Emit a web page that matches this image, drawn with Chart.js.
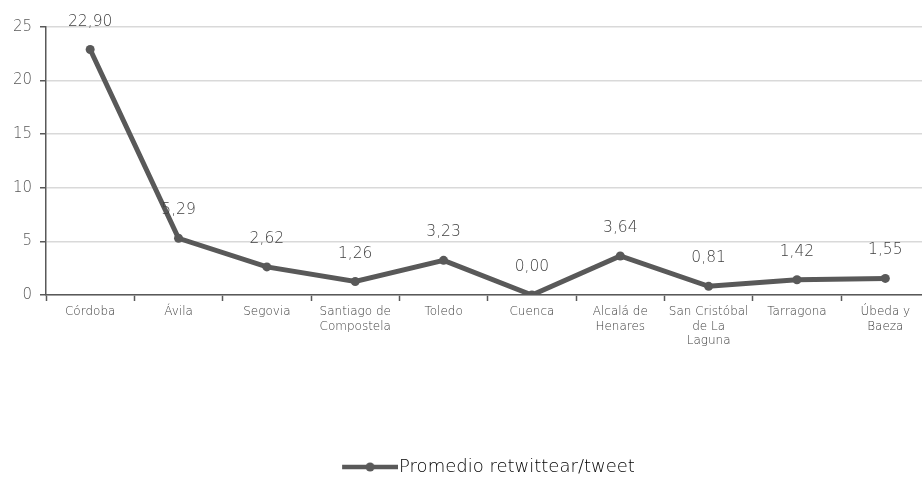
<!DOCTYPE html>
<html>
<head>
<meta charset="utf-8">
<script src="https://cdn.jsdelivr.net/npm/chart.js@4/dist/chart.umd.min.js"></script>
<style>
  html, body { margin: 0; padding: 0; background: #fff; overflow: hidden; }
  #wrap { width: 934px; height: 477px; }
</style>
</head>
<body>
<div id="wrap"><canvas id="myChart"></canvas></div>
<script>
var ciudades = ["Córdoba", "Ávila", "Segovia", ["Santiago de", "Compostela"], "Toledo", "Cuenca",
                ["Alcalá de", "Henares"], ["San Cristóbal", "de La", "Laguna"], "Tarragona", ["Úbeda y", "Baeza"]];
var promedio = [22.90, 5.29, 2.62, 1.26, 3.23, 0.00, 3.64, 0.81, 1.42, 1.55];
var ticksY = [0, 5, 10, 15, 20, 25];

var gris = "#595959";
var fuente = "'DejaVu Sans', sans-serif";

// etiquetas de datos encima de cada punto
var etiquetas = {
    id: "etiquetas",
    afterDatasetsDraw: function(chart) {
        var ctx = chart.ctx;
        var meta = chart.getDatasetMeta(0);
        ctx.save();
        ctx.font = "200 15.5px " + fuente;
        ctx.fillStyle = "#404040";
        ctx.textAlign = "center";
        ctx.textBaseline = "middle";
        meta.data.forEach(function(p, i) {
            ctx.fillText(promedio[i].toFixed(2).replace(".", ","), p.x, p.y - 28);
        });
        ctx.restore();
    }
};

// la leyenda va algo a la derecha del centro y pegada abajo
var moverLeyenda = {
    id: "moverLeyenda",
    afterLayout: function(chart) {
        chart.legend.left += 21;
        chart.legend.right += 21;
        chart.legend.top += 9;
        chart.legend.bottom += 9;
    }
};

// icono de leyenda: linea con punto (desplazado a la derecha para pegarlo al texto)
var icono = document.createElement("canvas");
icono.width = 64; icono.height = 10;
var ic = icono.getContext("2d");
ic.strokeStyle = gris; ic.lineWidth = 4.5;
ic.beginPath(); ic.moveTo(8, 5); ic.lineTo(64, 5); ic.stroke();
ic.fillStyle = gris;
ic.beginPath(); ic.arc(36, 5, 4.5, 0, Math.PI * 2); ic.fill();

var ctx = document.getElementById("myChart");
var myChart = new Chart(ctx, {
    type: 'line',
    data: {
        labels: ciudades,
        datasets: [
            {
                data: promedio,
                label: "Promedio retwittear/tweet",
                borderColor: gris,
                backgroundColor: gris,
                borderWidth: 5,
                pointRadius: 4.5,
                pointBackgroundColor: gris,
                pointBorderWidth: 0,
                tension: 0,
                fill: false
            }
        ]
    },
    options: {
        responsive: true,
        maintainAspectRatio: false,
        animation: false,
        layout: { padding: { top: 27, right: 0, left: 1, bottom: 0 } },
        plugins: {
            tooltip: { enabled: false },
            legend: {
                position: 'bottom',
                labels: {
                    usePointStyle: true,
                    pointStyleWidth: 48,
                    color: gris,
                    font: { family: fuente, size: 18, weight: 200 },
                    padding: 0,
                    generateLabels: function(chart) {
                        return [{
                            text: chart.data.datasets[0].label,
                            pointStyle: icono,
                            fillStyle: gris,
                            strokeStyle: gris,
                            lineWidth: 0,
                            datasetIndex: 0
                        }];
                    }
                }
            }
        },
        scales: {
            x: {
                offset: true,
                afterFit: function(s) { s.height = 154; },
                grid: {
                    offset: true,
                    drawOnChartArea: false,
                    tickLength: 6,
                    tickColor: gris,
                    tickWidth: 1.5
                },
                border: { color: gris, width: 1.5 },
                ticks: {
                    color: "#404040",
                    font: { family: fuente, size: 12, weight: 200 },
                    lineHeight: 1.3,
                    maxRotation: 0,
                    autoSkip: false,
                    padding: 4
                }
            },
            y: {
                min: 0,
                max: 25,
                afterFit: function(s) { s.width = 45; },
                afterBuildTicks: function(s) { s.ticks = ticksY.map(function(v) { return { value: v }; }); },
                grid: {
                    color: "#d9d9d9",
                    lineWidth: 1.5,
                    tickLength: 6,
                    tickColor: gris
                },
                border: { color: gris, width: 1.5 },
                ticks: {
                    color: gris,
                    font: { family: fuente, size: 15, weight: 200 },
                    padding: 8
                }
            }
        }
    },
    plugins: [etiquetas, moverLeyenda]
});
</script>
</body>
</html>
